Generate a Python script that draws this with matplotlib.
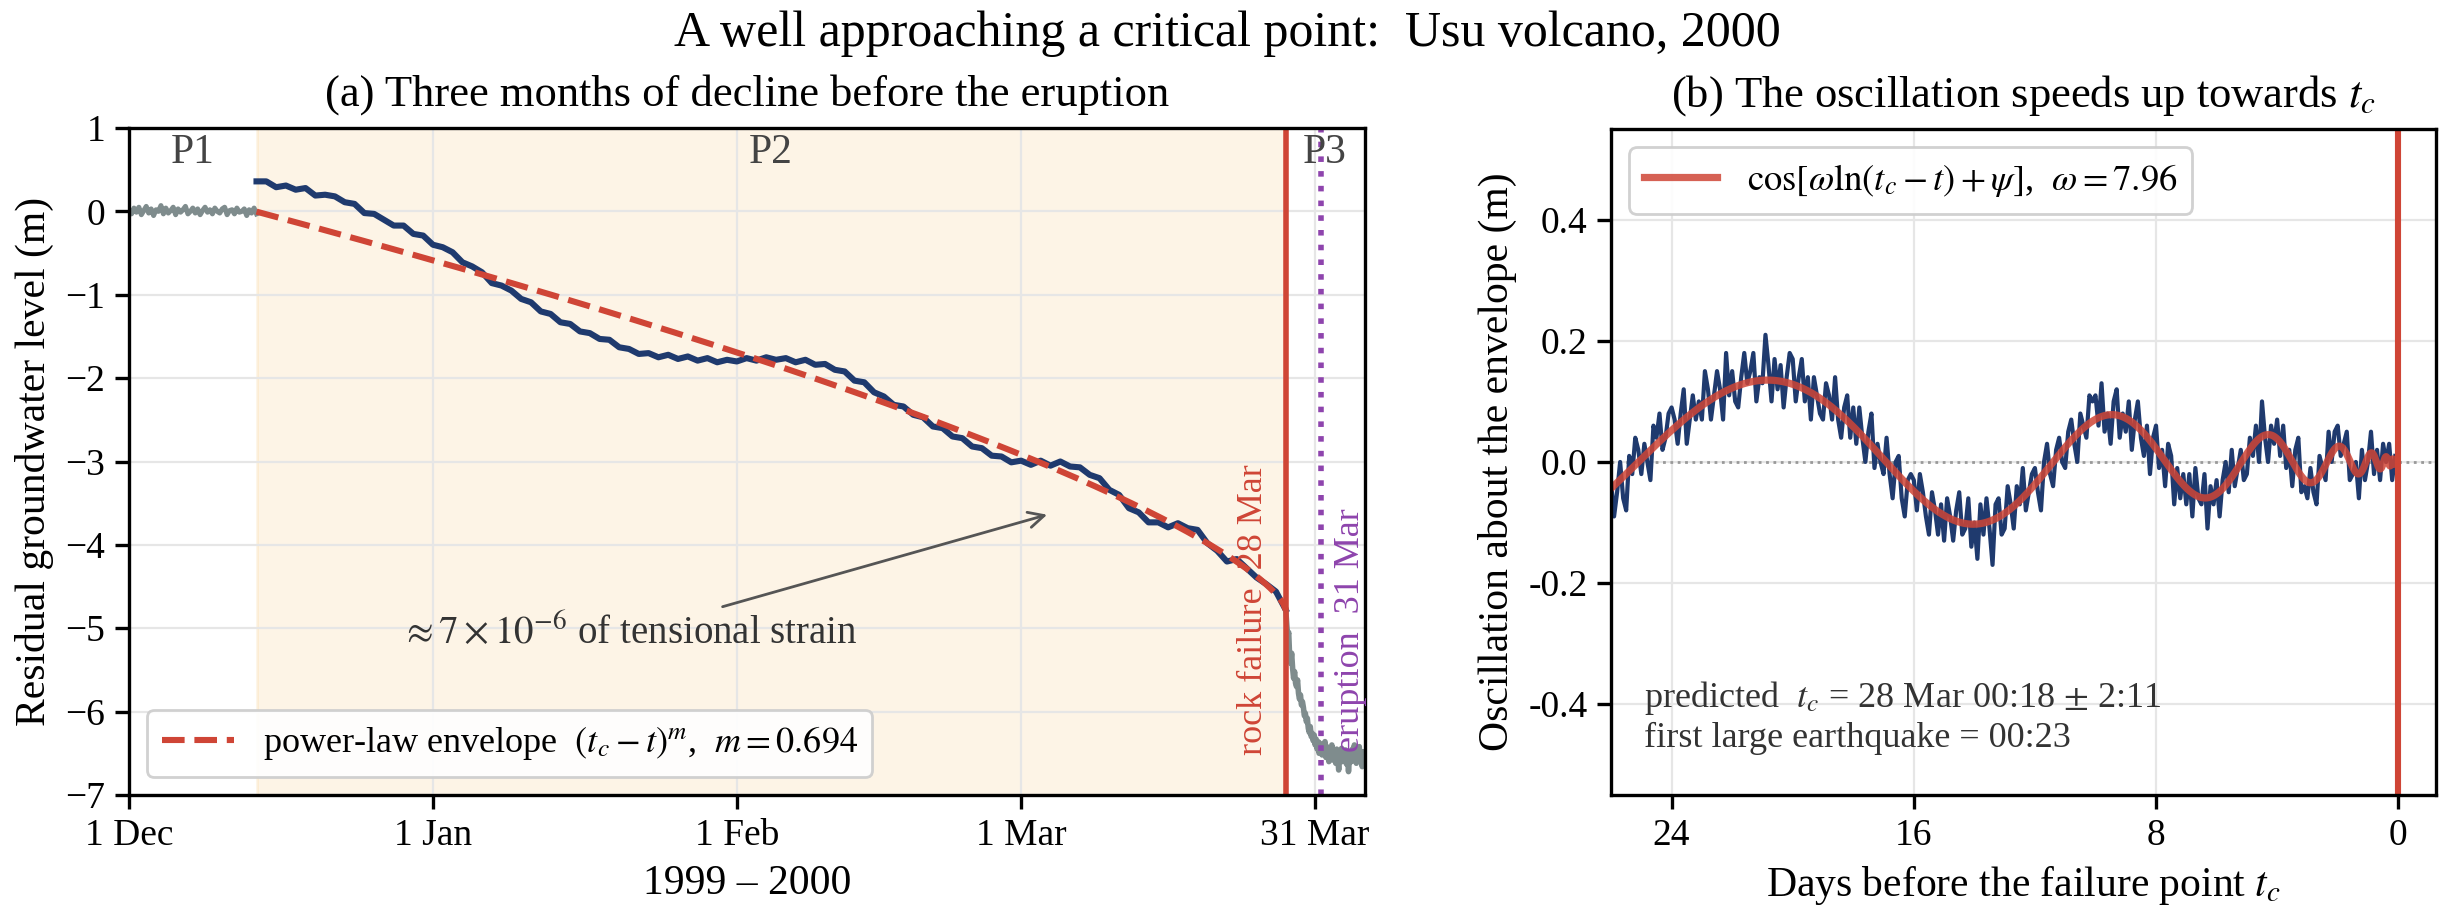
import numpy as np
import matplotlib
matplotlib.use("Agg")
import matplotlib.pyplot as plt
from matplotlib.ticker import FormatStrFormatter

plt.rcParams['font.family'] = ['Liberation Serif', 'DejaVu Serif']
plt.rcParams['mathtext.fontset'] = 'stix'
plt.rcParams['axes.linewidth'] = 1.2

# colours
NAVY = '#1f3a6e'
GREY = '#7f8c8d'
RED = '#cf4536'
PURPLE = '#8e44ad'
SHADE = '#f39c12'

# ---- panel (a): days since 1 Dec 1999 ----
tick_days = [0, 31, 62, 91, 121]
tick_names = ['1 Dec', '1 Jan', '1 Feb', '1 Mar', '31 Mar']
p2_start = 13.0          # 14 Dec
rock_failure = 118.0     # 28 Mar
eruption = 121.55        # 31 Mar

# P1 (grey), sampled every 0.25 day from day 0
p1_level = [0.02, -0.03, 0.04, -0.01, 0.05, -0.04, 0.01, 0.06, -0.02, 0.03,
            -0.05, 0.02, 0.00, 0.07, -0.03, 0.04, -0.02, 0.01, 0.05, -0.04,
            0.03, -0.01, 0.02, 0.06, -0.03, 0.00, 0.04, -0.02, 0.03, -0.04,
            0.01, 0.05, -0.01, 0.02, -0.03, 0.04, 0.00, -0.02, 0.03, 0.05,
            -0.04, 0.01, 0.02, -0.03, 0.04, -0.01, 0.00, 0.03, -0.05, 0.02,
            -0.02, 0.04, -0.03]

# P2 (navy), daily from day 13 to day 118
p2_level = [0.36, 0.36, 0.29, 0.31, 0.26, 0.28, 0.19, 0.20, 0.18, 0.11,
            0.09, -0.02, -0.03, -0.10, -0.17, -0.17, -0.27, -0.29, -0.40, -0.43,
            -0.49, -0.61, -0.66, -0.73, -0.86, -0.89, -0.95, -1.05, -1.09, -1.20,
            -1.23, -1.33, -1.35, -1.44, -1.46, -1.53, -1.54, -1.63, -1.65, -1.71,
            -1.70, -1.75, -1.72, -1.77, -1.74, -1.79, -1.76, -1.81, -1.78, -1.80,
            -1.76, -1.79, -1.75, -1.78, -1.76, -1.81, -1.78, -1.84, -1.83, -1.90,
            -1.92, -2.03, -2.05, -2.17, -2.22, -2.32, -2.34, -2.44, -2.47, -2.58,
            -2.60, -2.70, -2.72, -2.82, -2.84, -2.93, -2.94, -3.01, -2.99, -3.04,
            -2.99, -3.05, -3.00, -3.06, -3.07, -3.16, -3.20, -3.34, -3.40, -3.56,
            -3.61, -3.73, -3.73, -3.79, -3.74, -3.80, -3.82, -3.98, -4.07, -4.20,
            -4.17, -4.28, -4.39, -4.47, -4.56, -4.78]

# P3 (grey), every 0.1 day from day 118
p3_level = [-4.78, -4.95, -5.10, -5.05, -5.35, -5.42, -5.30, -5.48, -5.60, -5.52,
            -5.66, -5.70, -5.62, -5.78, -5.85, -5.80, -5.92, -5.88, -5.95, -6.05,
            -6.02, -6.12, -6.08, -6.20, -6.25, -6.18, -6.30, -6.26, -6.35, -6.28,
            -6.40, -6.33, -6.45, -6.36, -6.50, -6.38, -6.44, -6.52, -6.40, -6.48,
            -6.36, -6.55, -6.42, -6.47, -6.60, -6.44, -6.52, -6.40, -6.58, -6.46,
            -6.50, -6.62, -6.45, -6.55, -6.70, -6.48, -6.56, -6.44, -6.60, -6.52,
            -6.58, -6.46, -6.63, -6.50, -6.72, -6.55, -6.48, -6.60, -6.45, -6.58,
            -6.40, -6.55, -6.62, -6.47, -6.58, -6.42, -6.60, -6.50, -6.66, -6.48,
            -6.55]

# power-law envelope parameters
m_exp = 0.694
env_floor = -4.78
env_scale = 0.189

# ---- panel (b): days before t_c, every 0.1 day from 26 ----
osc_obs = [-0.03, -0.09, -0.05, 0.00, -0.06, -0.08, 0.01, -0.02, 0.04, 0.02,
           -0.02, 0.03, 0.00, -0.03, 0.06, 0.04, 0.08, 0.02, 0.04, 0.08,
           0.09, 0.07, 0.03, 0.08, 0.12, 0.03, 0.07, 0.11, 0.07, 0.10,
           0.07, 0.15, 0.12, 0.07, 0.11, 0.15, 0.12, 0.07, 0.18, 0.11,
           0.15, 0.10, 0.09, 0.14, 0.18, 0.13, 0.15, 0.18, 0.10, 0.14,
           0.13, 0.21, 0.16, 0.10, 0.17, 0.12, 0.16, 0.09, 0.14, 0.18,
           0.17, 0.10, 0.14, 0.17, 0.10, 0.14, 0.07, 0.14, 0.11, 0.08,
           0.07, 0.13, 0.11, 0.07, 0.14, 0.07, 0.04, 0.09, 0.11, 0.04,
           0.09, 0.03, 0.09, 0.04, 0.00, 0.05, 0.08, -0.01, 0.03, 0.00,
           -0.02, 0.04, -0.02, -0.06, 0.00, 0.01, -0.06, -0.09, -0.03, -0.02,
           -0.03, -0.08, -0.02, -0.05, -0.09, -0.12, -0.05, -0.08, -0.12, -0.07,
           -0.13, -0.06, -0.09, -0.13, -0.08, -0.05, -0.12, -0.11, -0.06, -0.14,
           -0.10, -0.16, -0.07, -0.12, -0.06, -0.11, -0.17, -0.07, -0.06, -0.12,
           -0.11, -0.04, -0.07, -0.11, -0.04, -0.07, -0.01, -0.08, -0.05, -0.02,
           -0.01, -0.05, -0.08, 0.00, 0.03, -0.02, -0.04, 0.02, 0.04, 0.00,
           -0.01, 0.05, 0.07, 0.03, 0.00, 0.08, 0.06, 0.04, 0.11, 0.10,
           0.11, 0.06, 0.13, 0.05, 0.08, 0.03, 0.10, 0.12, 0.04, 0.08,
           0.05, 0.10, 0.02, 0.07, 0.10, 0.04, 0.01, 0.06, -0.02, 0.04,
           0.06, -0.01, 0.02, -0.04, 0.03, 0.01, -0.07, -0.01, -0.06, -0.02,
           -0.07, -0.02, -0.09, -0.01, -0.06, -0.07, -0.02, -0.11, -0.04, -0.07,
           -0.03, -0.09, -0.03, 0.00, -0.05, 0.02, -0.04, -0.01, 0.02, -0.03,
           -0.02, 0.04, 0.01, 0.06, 0.00, 0.10, 0.04, 0.00, 0.06, 0.03,
           0.07, 0.01, 0.06, -0.01, 0.02, -0.04, 0.02, 0.04, -0.05, -0.04,
           -0.06, -0.01, -0.05, -0.07, 0.01, -0.01, -0.03, 0.05, 0.00, 0.05,
           0.06, 0.01, 0.03, 0.05, -0.03, -0.02, 0.00, -0.06, 0.02, -0.03,
           0.00, 0.05, -0.02, 0.02, -0.03, 0.03, 0.00, 0.03, -0.03, 0.01]
omega = 7.96
psi = 1.05
osc_amp = 0.0165

fig = plt.figure(figsize=(12.27, 4.615), dpi=200)
ax1 = fig.add_axes([0.0526, 0.1387, 0.5037, 0.7226])
ax2 = fig.add_axes([0.6565, 0.1387, 0.3362, 0.7216])

# panel (a)
ax1.axvspan(p2_start, rock_failure, color=SHADE, alpha=0.1, zorder=0)
ax1.grid(True, color='#e6e6e6', lw=0.8, zorder=0.5)
ax1.set_axisbelow(True)

ax1.plot(np.arange(len(p1_level)) * 0.25, p1_level, color=GREY, lw=1.8)
ax1.plot(p2_start + np.arange(len(p2_level)), p2_level, color=NAVY, lw=2.2)
ax1.plot(rock_failure + np.arange(len(p3_level)) * 0.1, p3_level, color=GREY, lw=2.0)

t_env = np.linspace(p2_start, rock_failure, 400)
ax1.plot(t_env, env_floor + env_scale * (rock_failure - t_env) ** m_exp, '--',
         color=RED, lw=2.2, label=r'power-law envelope  $(t_c-t)^m$,  $m=0.694$')

ax1.axvline(rock_failure, color=RED, lw=2)
ax1.axvline(eruption, color=PURPLE, lw=2, ls=':')
ax1.text(114.7, -6.52, 'rock failure  28 Mar', rotation=90, color=RED,
         ha='center', va='bottom', fontsize=13)
ax1.text(124.6, -6.49, 'eruption  31 Mar', rotation=90, color=PURPLE,
         ha='center', va='bottom', fontsize=13)

for lab, xpos in [('P1', 6.5), ('P2', 65.5), ('P3', 122.0)]:
    ax1.text(xpos, 0.7, lab, color='#444444', fontsize=15, ha='center', va='center')

ax1.annotate(r'$\approx 7\times10^{-6}$ of tensional strain', xy=(94.2, -3.62),
             xytext=(51, -5.06), ha='center', va='center', fontsize=14, color='#333333',
             arrowprops=dict(arrowstyle='->', color='#555555', lw=1.0))

ax1.set_xlim(0, 126.1)
ax1.set_ylim(-7, 1)
ax1.set_xticks(tick_days)
ax1.set_xticklabels(tick_names)
ax1.set_yticks(range(-7, 2))
ax1.tick_params(labelsize=13.5, length=5, width=1.2)
ax1.set_xlabel('1999 – 2000', fontsize=15)
ax1.set_ylabel('Residual groundwater level (m)', fontsize=15)
ax1.set_title('(a) Three months of decline before the eruption', fontsize=16, pad=8)
ax1.legend(loc='lower left', fontsize=13, framealpha=0.9)

# panel (b)
ax2.grid(True, color='#e6e6e6', lw=0.8)
ax2.set_axisbelow(True)
ax2.axhline(0, color='#999999', lw=1.0, ls=':')
tau_obs = 26.0 - 0.1 * np.arange(len(osc_obs))
ax2.plot(tau_obs, osc_obs, color=NAVY, lw=1.5)
tau = np.linspace(26, 0.08, 3000)
ax2.plot(tau, osc_amp * tau ** m_exp * np.cos(omega * np.log(tau) + psi),
         color=RED, lw=2.6, alpha=0.85,
         label=r'$\cos[\omega\ln(t_c-t)+\psi]$,  $\omega=7.96$')
ax2.axvline(0, color=RED, lw=2.2)
ax2.text(0.04, 0.06, 'predicted  $t_c$ = 28 Mar 00:18 $\\pm$ 2:11\nfirst large earthquake = 00:23',
         transform=ax2.transAxes, fontsize=13, color='#333333', va='bottom', ha='left')

ax2.set_xlim(26, -1.25)
ax2.set_ylim(-0.55, 0.55)
ax2.set_xticks([24, 16, 8, 0])
ax2.set_yticks([-0.4, -0.2, 0.0, 0.2, 0.4])
ax2.yaxis.set_major_formatter(FormatStrFormatter('%.1f'))
ax2.tick_params(labelsize=13.5, length=5, width=1.2)
ax2.set_xlabel('Days before the failure point $t_c$', fontsize=15)
ax2.set_ylabel('Oscillation about the envelope (m)', fontsize=15)
ax2.set_title('(b) The oscillation speeds up towards $t_c$', fontsize=16, pad=8)
ax2.legend(loc='upper left', fontsize=13.2, framealpha=0.9)

fig.suptitle('A well approaching a critical point:  Usu volcano, 2000',
             fontsize=18, y=0.963, va='center')

fig.savefig('out.png', dpi=200)
